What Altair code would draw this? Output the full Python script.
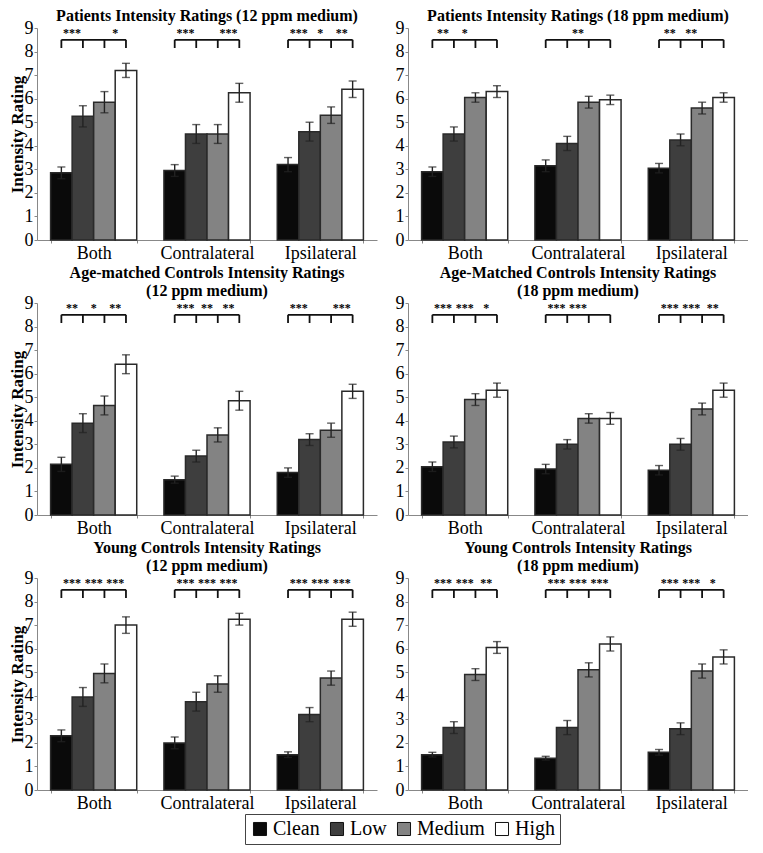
import altair as alt
import pandas as pd

groups = ["Both", "Contralateral", "Ipsilateral"]
levels = ["Clean", "Low", "Medium", "High"]
level_colors = ["#0a0a0a", "#3e3e3e", "#838383", "#ffffff"]
y_ticks = [0, 1, 2, 3, 4, 5, 6, 7, 8, 9]

titles = [
    ["Patients Intensity Ratings (12 ppm medium)"],
    ["Patients Intensity Ratings (18 ppm medium)"],
    ["Age-matched Controls Intensity Ratings", "(12 ppm medium)"],
    ["Age-Matched Controls Intensity Ratings", "(18 ppm medium)"],
    ["Young Controls Intensity Ratings", "(12 ppm medium)"],
    ["Young Controls Intensity Ratings", "(18 ppm medium)"],
]

# means per group (Both, Contralateral, Ipsilateral) x level (Clean, Low, Medium, High)
patients_12_mean = [[2.85, 5.25, 5.85, 7.2], [2.95, 4.5, 4.5, 6.25], [3.2, 4.6, 5.3, 6.4]]
patients_12_err = [[0.25, 0.45, 0.45, 0.3], [0.25, 0.4, 0.4, 0.4], [0.3, 0.4, 0.35, 0.35]]
patients_12_sig = [["***", "", "*"], ["***", "", "***"], ["***", "*", "**"]]

patients_18_mean = [[2.9, 4.5, 6.05, 6.3], [3.15, 4.1, 5.85, 5.95], [3.05, 4.25, 5.6, 6.05]]
patients_18_err = [[0.2, 0.3, 0.2, 0.25], [0.25, 0.3, 0.25, 0.2], [0.2, 0.25, 0.25, 0.2]]
patients_18_sig = [["**", "*", ""], ["", "**", ""], ["**", "**", ""]]

aged_12_mean = [[2.15, 3.9, 4.65, 6.4], [1.5, 2.5, 3.4, 4.85], [1.8, 3.2, 3.6, 5.25]]
aged_12_err = [[0.3, 0.4, 0.4, 0.4], [0.15, 0.25, 0.3, 0.4], [0.2, 0.25, 0.3, 0.3]]
aged_12_sig = [["**", "*", "**"], ["***", "**", "**"], ["***", "", "***"]]

aged_18_mean = [[2.05, 3.1, 4.9, 5.3], [1.95, 3.0, 4.1, 4.1], [1.9, 3.0, 4.5, 5.3]]
aged_18_err = [[0.2, 0.25, 0.25, 0.3], [0.2, 0.2, 0.2, 0.25], [0.2, 0.25, 0.25, 0.3]]
aged_18_sig = [["***", "***", "*"], ["***", "***", ""], ["***", "***", "**"]]

young_12_mean = [[2.3, 3.95, 4.95, 7.0], [2.0, 3.75, 4.5, 7.25], [1.5, 3.2, 4.75, 7.25]]
young_12_err = [[0.25, 0.4, 0.4, 0.35], [0.25, 0.4, 0.35, 0.25], [0.12, 0.3, 0.3, 0.3]]
young_12_sig = [["***", "***", "***"], ["***", "***", "***"], ["***", "***", "***"]]

young_18_mean = [[1.5, 2.65, 4.9, 6.05], [1.35, 2.65, 5.1, 6.2], [1.6, 2.6, 5.05, 5.65]]
young_18_err = [[0.1, 0.25, 0.25, 0.25], [0.08, 0.3, 0.3, 0.3], [0.12, 0.25, 0.3, 0.3]]
young_18_sig = [["***", "***", "**"], ["***", "***", "***"], ["***", "***", "*"]]

bracket_top = 8.5
bracket_drop = 8.15
star_y = 8.8

W = 340
H = 212
FONT = "Liberation Serif, Times New Roman, serif"


def panel(title, means, errs, sigs, left):
    rows = []
    for gi, g in enumerate(groups):
        for li, lv in enumerate(levels):
            m = means[gi][li]
            e = errs[gi][li]
            rows.append({"group": g, "level": lv, "li": li, "mean": m,
                         "lo": m - e, "hi": m + e,
                         "btop": bracket_top, "bdrop": bracket_drop})
    df = pd.DataFrame(rows)
    srows = []
    for gi, g in enumerate(groups):
        for k, s in enumerate(sigs[gi]):
            srows.append({"group": g, "level": levels[k + 1], "sig": s, "sy": star_y})
    sdf = pd.DataFrame(srows)

    yaxis = alt.Axis(values=y_ticks, tickCount=10, title="Intensity Rating" if left else None,
                     titleX=-11, titleY=H / 2, titleBaseline="bottom",
                     titleFont=FONT, titleFontSize=17, titleFontWeight="bold",
                     titleColor="black", labelOverlap=False)
    y_scale = alt.Scale(domain=[0, 9], nice=False)

    def Y(field):
        return alt.Y(field, type="quantitative", scale=y_scale, axis=yaxis,
                     title="Intensity Rating" if left else None)

    x = alt.X("group:N", sort=groups, title=None,
              scale=alt.Scale(paddingInner=0.24, paddingOuter=0.12),
              axis=alt.Axis(labelAngle=0, tickBand="extent"))
    xo = alt.XOffset("level:N", sort=levels, scale=alt.Scale(paddingInner=0, paddingOuter=0))

    base = alt.Chart(df).encode(x=x, xOffset=xo)
    bars = base.mark_bar(stroke="#2a2a2a", strokeWidth=1.5).encode(
        y=Y("mean"),
        color=alt.Color("level:N", sort=levels,
                        scale=alt.Scale(domain=levels, range=level_colors),
                        legend=alt.Legend(orient="none", legendX=208, legendY=786,
                                          direction="horizontal", title=None,
                                          symbolType="square", symbolSize=170,
                                          symbolStrokeColor="#111", symbolStrokeWidth=1,
                                          labelFont=FONT, labelFontSize=20, labelColor="black",
                                          labelOffset=3, columnPadding=7,
                                          strokeColor="#444", padding=5)),
    )
    err = base.mark_rule(color="#222", strokeWidth=1.4).encode(y=Y("lo"), y2="hi:Q")
    cap_lo = base.mark_tick(color="#222", size=8, thickness=1.4).encode(y=Y("lo"))
    cap_hi = base.mark_tick(color="#222", size=8, thickness=1.4).encode(y=Y("hi"))
    bline = base.mark_line(color="#111", strokeWidth=1.8).encode(
        y=Y("btop"), detail="group:N", order=alt.Order("li:Q"))
    bdrops = base.mark_rule(color="#111", strokeWidth=1.8).encode(y=Y("bdrop"), y2="btop:Q")
    stars = alt.Chart(sdf).mark_text(font=FONT, fontSize=12, fontWeight="bold",
                                     dx=-10.8, baseline="middle", color="black").encode(
        x=x, xOffset=xo, y=Y("sy"), text="sig:N")

    return alt.layer(bars, err, cap_lo, cap_hi, bline, bdrops, stars).properties(
        width=W, height=H,
        title=alt.TitleParams(text=title, font=FONT, fontSize=16, fontWeight="bold",
                              anchor="middle", offset=-5, lineHeight=18, color="black"))


p = [
    panel(titles[0], patients_12_mean, patients_12_err, patients_12_sig, True),
    panel(titles[1], patients_18_mean, patients_18_err, patients_18_sig, False),
    panel(titles[2], aged_12_mean, aged_12_err, aged_12_sig, True),
    panel(titles[3], aged_18_mean, aged_18_err, aged_18_sig, False),
    panel(titles[4], young_12_mean, young_12_err, young_12_sig, True),
    panel(titles[5], young_18_mean, young_18_err, young_18_sig, False),
]

chart = alt.vconcat(
    alt.hconcat(p[0], p[1], spacing=18),
    alt.hconcat(p[2], p[3], spacing=18),
    alt.hconcat(p[4], p[5], spacing=18),
    spacing=3,
).properties(padding=0).configure_view(stroke=None).configure_axis(
    grid=False, labelFont=FONT, labelColor="black", domainColor="#888",
    tickColor="#888", tickSize=3,
).configure_axisY(labelFontSize=18, labelPadding=1).configure_axisX(
    labelFontSize=18, labelPadding=1)

chart.save("out.html", embed_options={"renderer": "svg", "actions": False})
